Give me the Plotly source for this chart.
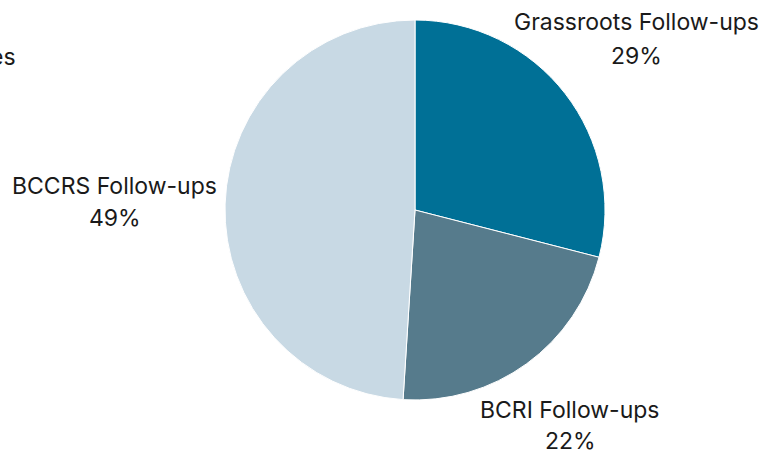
import plotly.graph_objects as go

labels = ["Grassroots Follow-ups", "BCRI Follow-ups", "BCCRS Follow-ups"]
values = [29, 22, 49]
colors = ["#007096", "#567B8C", "#C8D9E4"]
title_text = "Follow-up Sources"

# label placement in page pixels: (centre x, name line y, percent line y)
label_pos = [(636, 22, 56), (570, 410, 441), (115, 186, 218)]

W, H = 778, 454
cx, cy, r = 415, 210, 190
FONT = dict(family="Inter", size=23, color="#1a1a1a")

fig = go.Figure(go.Pie(
    labels=labels,
    values=values,
    sort=False,
    direction="clockwise",
    rotation=0,
    marker=dict(colors=colors, line=dict(color="white", width=1)),
    textinfo="none",
    showlegend=False,
    hoverinfo="label+percent",
    domain=dict(x=[(cx - r) / W, (cx + r) / W], y=[(H - cy - r) / H, (H - cy + r) / H]),
))

total = sum(values)
for lab, val, (px, py1, py2) in zip(labels, values, label_pos):
    for txt, py in ((lab, py1), (f"{round(100 * val / total)}%", py2)):
        fig.add_annotation(
            text=txt, xref="paper", yref="paper",
            x=px / W, y=1 - py / H,
            xanchor="center", yanchor="middle",
            showarrow=False, font=FONT,
        )

fig.add_annotation(
    text=title_text, xref="paper", yref="paper",
    x=18 / W, y=1 - 57 / H, xanchor="right", yanchor="middle",
    showarrow=False, font=FONT,
)

fig.update_layout(
    width=W, height=H,
    margin=dict(l=0, r=0, t=0, b=0),
    paper_bgcolor="white",
    plot_bgcolor="white",
)

fig.write_html(
    "out.html",
    config={"displayModeBar": False},
    post_script="document.body.style.margin='0px';",
)
